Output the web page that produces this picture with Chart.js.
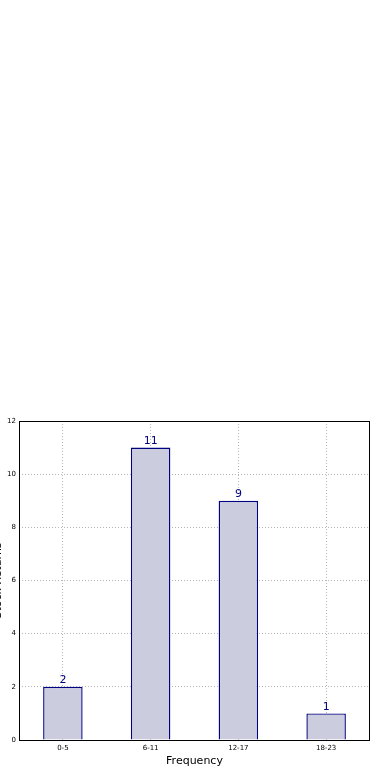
<!DOCTYPE html>
<html>
<head>
<meta charset="utf-8">
<script src="https://cdn.jsdelivr.net/npm/chart.js@4"></script>
<style>
  html, body { margin: 0; padding: 0; background: #fff; }
  #wrap { position: relative; width: 390px; height: 780px; overflow: hidden; }
  #freqChart { position: absolute; left: 0; top: 0; }
</style>
</head>
<body>
<div id="wrap"><canvas id="freqChart" width="390" height="780"></canvas></div>
<script>
const categories = ['0-5', '6-11', '12-17', '18-23'];
const counts = [2, 11, 9, 1];
const yTicks = [0, 2, 4, 6, 8, 10, 12];
const yLabel = 'Stock Returns';
const xLabel = 'Frequency';

Chart.defaults.font.family = 'DejaVu Sans';
Chart.defaults.color = '#000';

// value labels above each bar
const barLabels = {
    id: 'barLabels',
    afterDatasetsDraw(chart) {
        const ctx = chart.ctx;
        const meta = chart.getDatasetMeta(0);
        ctx.save();
        ctx.font = '11px "DejaVu Sans"';
        ctx.fillStyle = '#00007f';
        ctx.textAlign = 'center';
        ctx.textBaseline = 'bottom';
        meta.data.forEach((bar, i) => {
            ctx.fillText(String(counts[i]), bar.x, bar.y - 1);
        });
        ctx.restore();
    }
};

// black frame round the plot + clipped y title at the left edge
const frame = {
    id: 'frame',
    afterDraw(chart) {
        const { ctx, chartArea: a } = chart;
        ctx.save();
        ctx.strokeStyle = '#000';
        ctx.lineWidth = 1;
        ctx.strokeRect(a.left + 0.5, a.top + 0.5, a.right - a.left - 1, a.bottom - a.top);
        ctx.translate(1, (a.top + a.bottom) / 2);
        ctx.rotate(-Math.PI / 2);
        ctx.font = '11px "DejaVu Sans"';
        ctx.fillStyle = '#000';
        ctx.textAlign = 'center';
        ctx.textBaseline = 'alphabetic';
        ctx.fillText(yLabel, 0, 0);
        ctx.restore();
    }
};

new Chart(document.getElementById('freqChart'), {
    type: 'bar',
    data: {
        labels: categories,
        datasets: [{
            data: counts,
            backgroundColor: '#ccccdf',
            borderColor: '#000080',
            borderWidth: 1.4,
            barPercentage: 0.45,
            categoryPercentage: 1.0
        }]
    },
    options: {
        responsive: false,
        animation: false,
        layout: { padding: { top: 421, right: 20, left: 0, bottom: 12 } },
        plugins: {
            legend: { display: false },
            tooltip: { enabled: false }
        },
        scales: {
            x: {
                grid: { color: '#b4b4b4', lineWidth: 1, drawTicks: false, offset: false },
                border: { display: false, dash: [1, 2] },
                ticks: { font: { size: 7 }, padding: 4, color: '#000' },
                title: { display: true, text: xLabel, font: { size: 11 }, padding: { top: 0, bottom: 0 } },
                afterFit(scale) { scale.height = 28; }
            },
            y: {
                min: 0,
                max: 12,
                afterBuildTicks(scale) { scale.ticks = yTicks.map(v => ({ value: v })); },
                grid: { color: '#b4b4b4', lineWidth: 1, drawTicks: false },
                border: { display: false, dash: [1, 2] },
                ticks: { font: { size: 7 }, padding: 3, color: '#000' },
                afterFit(scale) { scale.width = 19; }
            }
        }
    },
    plugins: [barLabels, frame]
});
</script>
</body>
</html>
